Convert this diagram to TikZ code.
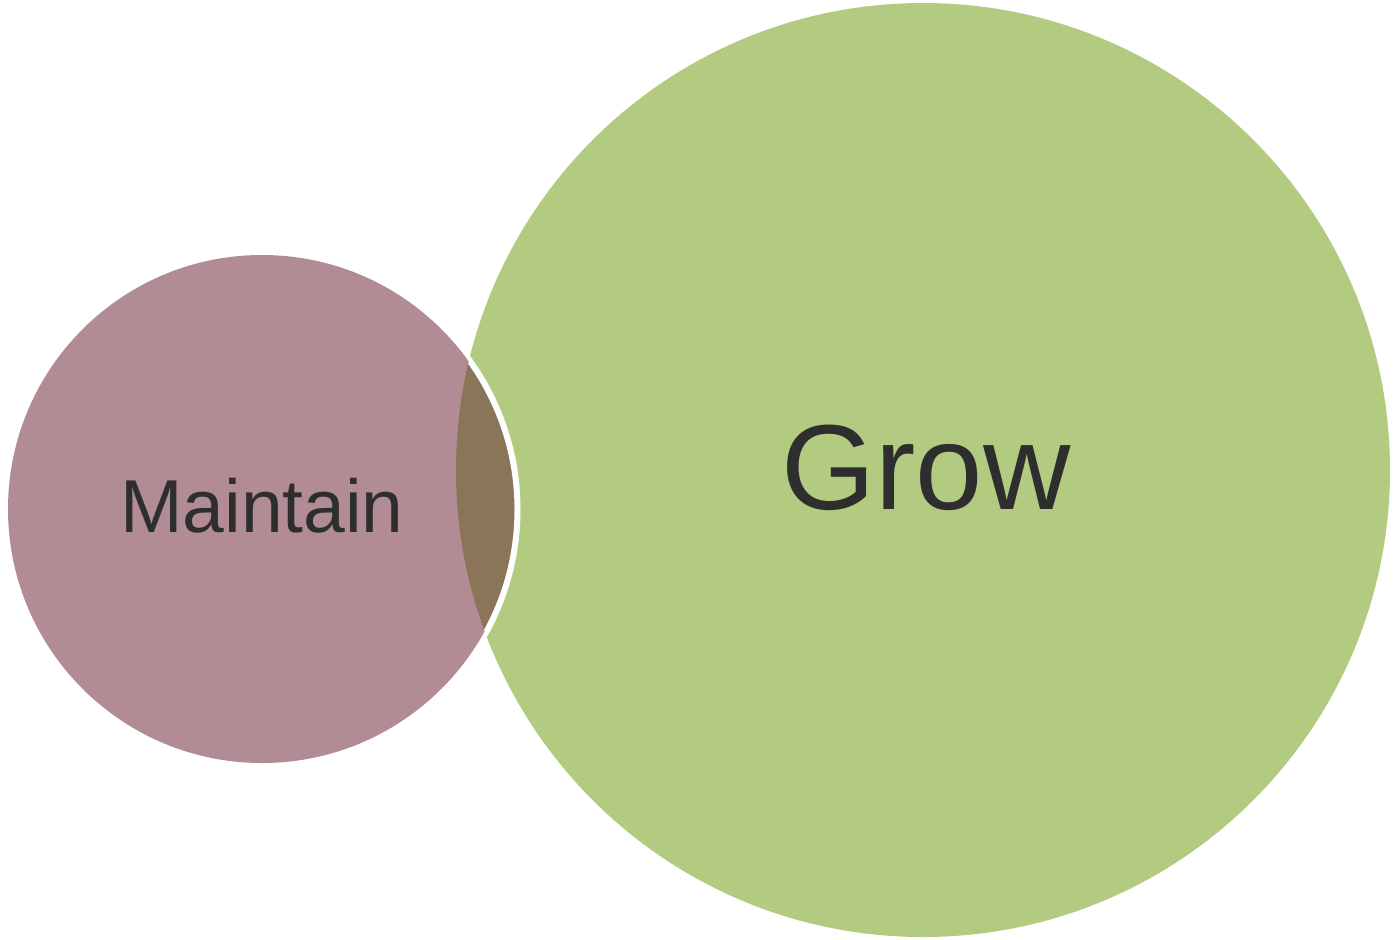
\documentclass[tikz,border=0pt]{standalone}
\usepackage{fontspec}
\setmainfont{Liberation Sans}
\definecolor{mauve}{HTML}{B28C95}
\definecolor{leaf}{HTML}{B3CB80}
\definecolor{overlap}{HTML}{8B7558}
\definecolor{ink}{HTML}{2E2E2E}
\begin{document}
\begin{tikzpicture}[x=0.5pt,y=-0.5pt,
  lbl/.style={text=ink,anchor=base,inner sep=0pt}]
\useasboundingbox (0,0) rectangle (1393,939);
\fill[leaf] (923,470) circle[radius=467];
\fill[mauve] (262,509) circle[radius=254];
\begin{scope}
  \clip (923,470) circle[radius=467];
  \fill[overlap] (262,509) circle[radius=254];
  \draw[white,line width=3pt] (262,509.5) circle[radius=255.5];
\end{scope}
\node[lbl,font=\fontsize{37.5}{40}\selectfont] (maintain) at (262,532) {Maintain};
\node[lbl,font=\fontsize{60.5}{66}\selectfont] (grow) at (926,509) {Grow};
\end{tikzpicture}
\end{document}
